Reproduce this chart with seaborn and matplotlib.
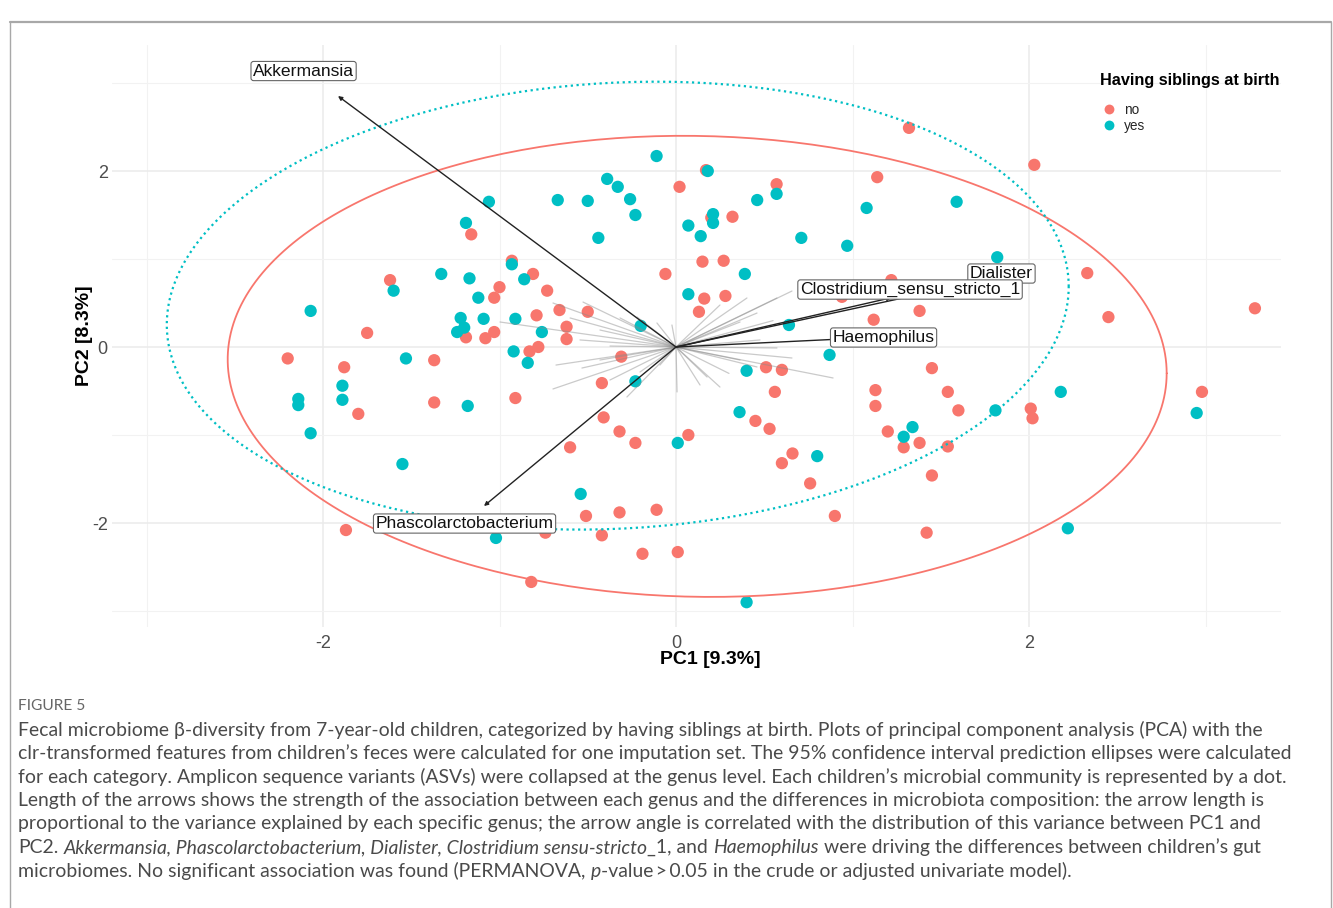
import numpy as np
import pandas as pd
import matplotlib
matplotlib.use("Agg")
import matplotlib.pyplot as plt
import seaborn as sns

# PCA scores per group
no_x = [1.32, 2.03, 1.14, 0.57, 0.02, 0.17, 0.20, 0.32, -0.06, 0.15, 0.27, 0.16, 0.28, 0.13,
        0.94, 1.22, 1.38, 1.12, 2.33, 2.45, 3.28, -1.16, -0.93, -0.81, -1.00, -0.73, -1.62,
        -1.03, -0.79, -0.66, -0.50, -0.62, -0.62, -1.75, -1.19, -1.08, -1.03, -0.78, -0.83,
        -2.20, -1.88, -1.37, -0.31, -0.42, -1.80, -1.37, -0.91, -0.41, -0.32, -0.23, -0.60,
        -0.51, -0.32, -0.42, -0.19, -0.74, -1.87, -0.82, -0.11, 0.01, 0.07, 0.51, 0.60, 0.56,
        0.45, 0.53, 0.66, 0.60, 0.76, 0.90, 1.13, 1.13, 1.45, 1.54, 1.60, 2.01, 2.02, 2.98,
        1.20, 1.29, 1.38, 1.54, 1.45, 1.42]
no_y = [2.49, 2.07, 1.93, 1.85, 1.82, 2.01, 1.47, 1.48, 0.83, 0.97, 0.98, 0.55, 0.58, 0.40,
        0.57, 0.76, 0.41, 0.31, 0.84, 0.34, 0.44, 1.28, 0.98, 0.83, 0.68, 0.64, 0.76,
        0.56, 0.36, 0.42, 0.40, 0.23, 0.09, 0.16, 0.11, 0.10, 0.17, 0.00, -0.05,
        -0.13, -0.23, -0.15, -0.11, -0.41, -0.76, -0.63, -0.58, -0.80, -0.96, -1.09, -1.14,
        -1.92, -1.88, -2.14, -2.35, -2.11, -2.08, -2.67, -1.85, -2.33, -1.00, -0.23, -0.26, -0.51,
        -0.84, -0.93, -1.21, -1.32, -1.55, -1.92, -0.49, -0.67, -0.24, -0.51, -0.72, -0.70, -0.81, -0.51,
        -0.96, -1.14, -1.09, -1.13, -1.46, -2.11]
yes_x = [-0.11, 0.18, -0.67, -0.50, -0.39, -0.33, -0.26, -0.23, -0.44, 0.07, 0.14, 0.21, 0.21,
         0.46, 0.57, 0.71, 0.97, 1.08, 1.59, 1.82, 0.07, 0.39, -0.20, 0.64, -1.06, -1.19,
         -0.93, -1.33, -1.17, -0.86, -1.60, -1.12, -2.07, -1.22, -1.09, -0.91, -1.20, -1.24,
         -0.76, -0.92, -0.84, -1.53, -1.89, -2.14, -2.14, -1.89, -2.07, -1.55, -1.18, -0.23,
         -0.54, -1.02, 0.01, 0.87, 0.40, 0.36, 0.80, 1.34, 1.29, 1.81, 2.18, 2.95, 2.22, 0.40]
yes_y = [2.17, 2.00, 1.67, 1.66, 1.91, 1.82, 1.68, 1.50, 1.24, 1.38, 1.26, 1.51, 1.41,
         1.67, 1.74, 1.24, 1.15, 1.58, 1.65, 1.02, 0.60, 0.83, 0.24, 0.25, 1.65, 1.41,
         0.94, 0.83, 0.78, 0.77, 0.64, 0.56, 0.41, 0.33, 0.32, 0.32, 0.22, 0.17,
         0.17, -0.05, -0.18, -0.13, -0.44, -0.59, -0.66, -0.60, -0.98, -1.33, -0.67, -0.39,
         -1.67, -2.17, -1.09, -0.09, -0.27, -0.74, -1.24, -0.91, -1.02, -0.72, -0.51, -0.75, -2.06, -2.90]

# 95% ellipses: centre, half extents, correlation
ell_groups = ["no", "yes"]
ell_cx = [0.12, -0.33]
ell_cy = [-0.22, 0.47]
ell_hx = [2.66, 2.555]
ell_hy = [2.62, 2.545]
ell_rho = [-0.03, 0.085]

# named genus loadings
genus = ["Akkermansia", "Phascolarctobacterium", "Dialister",
         "Clostridium_sensu_stricto_1", "Haemophilus"]
genus_x = [-1.915, -1.088, 1.80, 1.22, 0.93]
genus_y = [2.852, -1.807, 0.78, 0.56, 0.09]
label_x = [-2.110, -1.198, 1.844, 1.326, 1.176]
label_y = [3.136, -2.006, 0.835, 0.653, 0.108]

# remaining genus loadings (grey)
other_x = [0.657, 0.572, 0.402, 0.459, 0.249, 0.363, 0.306, 0.476, 0.890, 0.657, 0.572,
           0.249, 0.176, 0.006, 0.459, 0.363, 0.136, -0.023, -0.697, -0.527, -0.997,
           -0.317, -0.221, -0.108, -0.431, -0.374, -0.544, -0.680, -0.533, -0.697,
           -0.278, -0.374, -0.204, -0.431, -0.091, 0.55, -0.60, 0.30]
other_y = [0.636, 0.557, 0.557, 0.386, 0.477, 0.284, 0.136, 0.080, -0.352, -0.125, -0.011,
           -0.455, -0.341, -0.511, -0.227, -0.148, -0.432, 0.250, 0.500, 0.511, 0.284,
           0.330, 0.341, 0.273, 0.193, 0.011, 0.080, -0.205, -0.239, -0.477,
           -0.568, -0.375, -0.284, -0.148, -0.205, 0.30, 0.33, -0.30]

caption_head = "FIGURE 5"
caption_lines = [
    [("Fecal microbiome \u03b2-diversity from 7-year-old children, categorized by having siblings at birth. Plots of principal component analysis (PCA) with the", "normal")],
    [("clr-transformed features from children\u2019s feces were calculated for one imputation set. The 95% confidence interval prediction ellipses were calculated", "normal")],
    [("for each category. Amplicon sequence variants (ASVs) were collapsed at the genus level. Each children\u2019s microbial community is represented by a dot.", "normal")],
    [("Length of the arrows shows the strength of the association between each genus and the differences in microbiota composition: the arrow length is", "normal")],
    [("proportional to the variance explained by each specific genus; the arrow angle is correlated with the distribution of this variance between PC1 and", "normal")],
    [("PC2. ", "normal"), ("Akkermansia, Phascolarctobacterium, Dialister, Clostridium sensu-stricto", "italic"),
     ("_1, and ", "normal"), ("Haemophilus", "italic"),
     (" were driving the differences between children\u2019s gut", "normal")],
    [("microbiomes. No significant association was found (PERMANOVA, ", "normal"), ("p", "italic"),
     ("-value\u2009>\u20090.05 in the crude or adjusted univariate model).", "normal")],
]

W, H = 1333, 908
sns.set_theme(style="white")
plt.rcParams["font.family"] = ["Liberation Sans", "DejaVu Sans"]

fig = plt.figure(figsize=(W / 100, H / 100), dpi=100)
pl, pr, pt, pb = 112, 1281, 45, 627
ax = fig.add_axes([pl / W, 1 - pb / H, (pr - pl) / W, (pb - pt) / H])

df = pd.DataFrame({
    "PC1": no_x + yes_x,
    "PC2": no_y + yes_y,
    "siblings": ["no"] * len(no_x) + ["yes"] * len(yes_x),
})
pal = {"no": "#F8766D", "yes": "#00BFC4"}
sns.scatterplot(data=df, x="PC1", y="PC2", hue="siblings", palette=pal, s=78,
                linewidth=0, ax=ax, zorder=3)

t = np.linspace(0, 2 * np.pi, 300)
for g, cx, cy, hx, hy, r in zip(ell_groups, ell_cx, ell_cy, ell_hx, ell_hy, ell_rho):
    ex = cx + hx * np.cos(t)
    ey = cy + hy * (r * np.cos(t) + np.sqrt(1 - r ** 2) * np.sin(t))
    if g == "no":
        ax.plot(ex, ey, color=pal[g], lw=1.3, zorder=4)
    else:
        ax.plot(ex, ey, color=pal[g], lw=1.6, ls=(0, (1, 1.6)), zorder=4)

for gx, gy in zip(other_x, other_y):
    ax.plot([0, gx], [0, gy], color="#8a8a8a", alpha=0.45, lw=0.9, zorder=5)

for gx, gy in zip(genus_x, genus_y):
    ax.annotate("", xy=(gx, gy), xytext=(0, 0),
                arrowprops=dict(arrowstyle="-|>", mutation_scale=6, lw=1.0,
                                color="#222222", shrinkA=0, shrinkB=0), zorder=6)

for name, lx, ly in zip(genus, label_x, label_y):
    ax.text(lx, ly, name, ha="center", va="center", fontsize=12.6, color="#111111",
            zorder=7, bbox=dict(boxstyle="round,pad=0.12,rounding_size=0.15",
                                fc="white", ec="#666666", lw=0.8))

ax.set_xlim((pl - 676) / 176.5, (pr - 676) / 176.5)
ax.set_ylim((347 - pb) / 88.0, (347 - pt) / 88.0)
ax.set_xticks([-2, 0, 2])
ax.set_xticklabels(["-2", "0", "2"])
ax.set_yticks([-2, 0, 2])
ax.set_yticklabels(["-2", "0", "2"])
ax.set_xticks([-3, -1, 1, 3], minor=True)
ax.set_yticks([-3, -1, 1, 3], minor=True)
ax.grid(which="major", color="#ebebeb", lw=1.1)
ax.grid(which="minor", color="#f2f2f2", lw=0.8)
ax.set_axisbelow(True)
for s in ax.spines.values():
    s.set_visible(False)
ax.tick_params(which="both", length=0, labelsize=13, labelcolor="#4d4d4d")
ax.tick_params(axis="x", pad=6)
ax.tick_params(axis="y", pad=3)

ax.set_xlabel("PC1 [9.3%]", fontsize=14, fontweight="bold", color="black")
ax.set_ylabel("PC2 [8.3%]", fontsize=14, fontweight="bold", color="black")
ax.xaxis.set_label_coords((710 - pl) / (pr - pl), (pb - 651) / (pb - pt))
ax.yaxis.set_label_coords((93 - pl) / (pr - pl), 0.5)

sns.move_legend(ax, "upper left", bbox_to_anchor=(1102 / W, 1 - 103 / H),
                bbox_transform=fig.transFigure, title=None, frameon=True,
                facecolor="white", edgecolor="none", fancybox=False,
                fontsize=9.8, handlelength=1.0, handletextpad=0.6,
                labelspacing=0.12, borderpad=0.0, borderaxespad=0, markerscale=0.8)
fig.text(1100 / W, 1 - 80 / H, "Having siblings at birth", fontsize=11.7,
         fontweight="bold", va="center", ha="left", color="black")

# frame round the figure panel
line_kw = dict(transform=fig.transFigure, color="#a8a8a8")
fig.add_artist(plt.Line2D([10 / W, 1331 / W], [1 - 22 / H, 1 - 22 / H], lw=1.6, **line_kw))
fig.add_artist(plt.Line2D([10 / W, 10 / W], [0, 1 - 22 / H], lw=1.0, **line_kw))
fig.add_artist(plt.Line2D([1331 / W, 1331 / W], [0, 1 - 22 / H], lw=1.0, **line_kw))

# caption
cap_font = ["Lato", "DejaVu Sans"]
cap_color = "#4a4a4a"
renderer = fig.canvas.get_renderer()
probe = fig.text(0, 0, caption_lines[1][0][0], fontsize=10, family=cap_font)
cap_size = 10 * (1289 - 18) / probe.get_window_extent(renderer).width
probe.remove()

fig.text(18 / W, 1 - 706 / H, caption_head, fontsize=cap_size * 0.8, family=cap_font,
         color="#666666", va="center", ha="left")

sp = fig.text(0, 0, "x x", fontsize=cap_size, family=cap_font)
w2 = sp.get_window_extent(renderer).width
sp.set_text("xx")
space_w = w2 - sp.get_window_extent(renderer).width
sp.remove()

line_y = [730, 753.5, 777, 800.5, 824, 847.5, 871]
for runs, yy in zip(caption_lines, line_y):
    xx = 18.0
    for txt, style in runs:
        lead = len(txt) - len(txt.lstrip(" "))
        trail = len(txt) - len(txt.rstrip(" "))
        xx += lead * space_w
        core = txt.strip(" ")
        tt = fig.text(xx / W, 1 - yy / H, core, fontsize=cap_size, family=cap_font,
                      style=style, color=cap_color, va="center", ha="left")
        xx += tt.get_window_extent(renderer).width + trail * space_w

fig.savefig("out.png", dpi=100)
